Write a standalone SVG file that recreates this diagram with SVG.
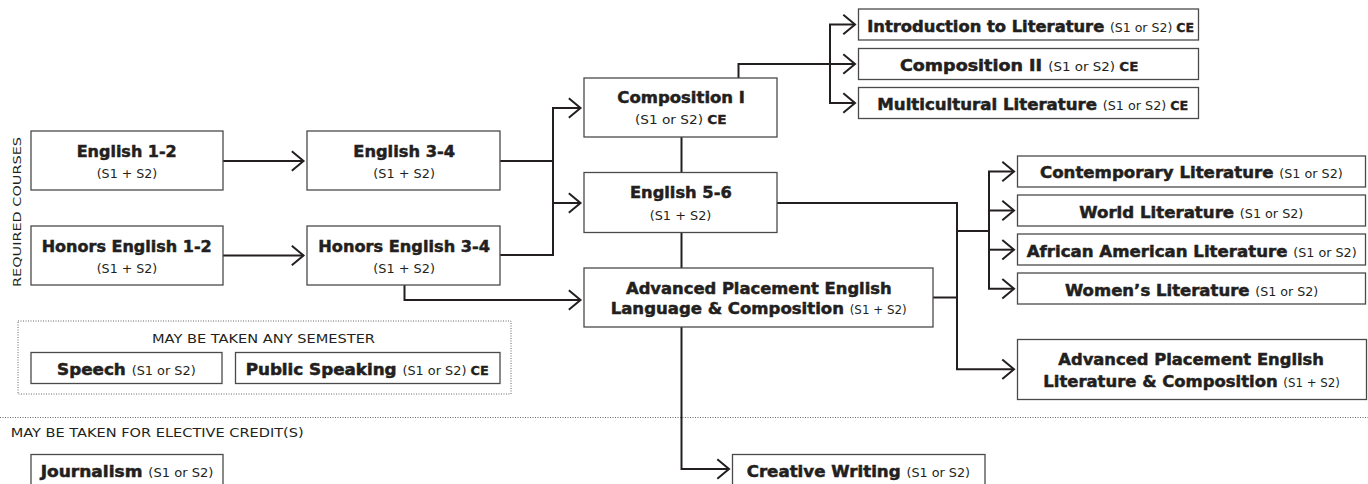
<svg xmlns="http://www.w3.org/2000/svg" width="1368" height="484" viewBox="0 0 1368 484">
<style>
.box{fill:#fff;stroke:#4a4a4a;stroke-width:1.3}
.t{font-family:"DejaVu Sans",sans-serif;font-weight:bold;font-size:16px;fill:#231f20;stroke:#231f20;stroke-width:0.5}
.t1{font-family:"DejaVu Sans",sans-serif;font-weight:bold;font-size:15px;fill:#231f20;stroke:#231f20;stroke-width:0.5}
.s{font-family:"DejaVu Sans",sans-serif;font-weight:normal;font-size:11.5px;fill:#231f20;stroke:none}
.ce{font-weight:bold;font-size:11.5px;stroke:#231f20;stroke-width:0.3}
.lbl{font-family:"DejaVu Sans",sans-serif;font-size:12px;fill:#231f20}
.conn path{fill:none;stroke:#231f20;stroke-width:2}
.dot{fill:none;stroke:#666;stroke-width:1;stroke-dasharray:1 1.5}
</style>
<defs>
<marker id="ah" markerUnits="userSpaceOnUse" markerWidth="18" markerHeight="26" viewBox="-3 -3 18 26" refX="11.7" refY="9.7" orient="auto">
<path d="M0,0 L11.7,9.7 L0,19.4" fill="none" stroke="#231f20" stroke-width="2"/>
</marker>
</defs>
<rect width="1368" height="484" fill="#fff"/>

<g id="separators">
<rect class="dot" x="18" y="321" width="493" height="73"/>
<line class="dot" x1="0" y1="417.5" x2="1368" y2="417.5"/>
<text class="lbl" x="152" y="343.3" textLength="223" lengthAdjust="spacingAndGlyphs">MAY BE TAKEN ANY SEMESTER</text>
<text class="lbl" x="10.7" y="437.3" textLength="293" lengthAdjust="spacingAndGlyphs">MAY BE TAKEN FOR ELECTIVE CREDIT(S)</text>
<text class="lbl" style="font-size:11px" transform="translate(20.5,212) rotate(-90)" x="0" y="0" text-anchor="middle" textLength="150" lengthAdjust="spacingAndGlyphs">REQUIRED COURSES</text>
</g>

<g id="connectors" class="conn">
<path d="M223,161 H303.5" marker-end="url(#ah)"/>
<path d="M223,255.5 H303.5" marker-end="url(#ah)"/>
<path d="M500,161 H553"/>
<path d="M500,255 H553 V108 H580.5" marker-end="url(#ah)"/>
<path d="M553,203 H580.5" marker-end="url(#ah)"/>
<path d="M681.5,137 V172.5"/>
<path d="M681.5,232.5 V268"/>
<path d="M404.5,285 V300 H580.5" marker-end="url(#ah)"/>
<path d="M681.5,327 V469 H729" marker-end="url(#ah)"/>
<path d="M738.5,78 V64 H855" marker-end="url(#ah)"/>
<path d="M830,64 V24.5 H855" marker-end="url(#ah)"/>
<path d="M830,64 V103 H855" marker-end="url(#ah)"/>
<path d="M777,203 H957 V369.3 H1014" marker-end="url(#ah)"/>
<path d="M933,297.5 H957"/>
<path d="M957,231 H989"/>
<path d="M989,231 V171.5 H1014" marker-end="url(#ah)"/>
<path d="M989,231 V288.8 H1014" marker-end="url(#ah)"/>
<path d="M989,210.5 H1014" marker-end="url(#ah)"/>
<path d="M989,249.7 H1014" marker-end="url(#ah)"/>
</g>

<g id="english12">
<rect class="box" x="31" y="131" width="192" height="59"/>
<text class="t" x="76.7" y="156.7" textLength="100" lengthAdjust="spacingAndGlyphs">English 1-2</text>
<text class="s" x="96.7" y="177.7" textLength="60.6" lengthAdjust="spacingAndGlyphs">(S1 + S2)</text>
</g>
<g id="honors12">
<rect class="box" x="31" y="226" width="192" height="59"/>
<text class="t" x="41.7" y="251.7" textLength="170" lengthAdjust="spacingAndGlyphs">Honors English 1-2</text>
<text class="s" x="96.7" y="272.7" textLength="60.6" lengthAdjust="spacingAndGlyphs">(S1 + S2)</text>
</g>
<g id="english34">
<rect class="box" x="307" y="131" width="193" height="59"/>
<text class="t" x="353.3" y="156.7" textLength="101.7" lengthAdjust="spacingAndGlyphs">English 3-4</text>
<text class="s" x="373.3" y="177.7" textLength="61.7" lengthAdjust="spacingAndGlyphs">(S1 + S2)</text>
</g>
<g id="honors34">
<rect class="box" x="307" y="226" width="193" height="59"/>
<text class="t" x="318.3" y="251.7" textLength="171.7" lengthAdjust="spacingAndGlyphs">Honors English 3-4</text>
<text class="s" x="373.3" y="272.7" textLength="61.7" lengthAdjust="spacingAndGlyphs">(S1 + S2)</text>
</g>
<g id="composition1">
<rect class="box" x="584" y="78" width="193" height="59"/>
<text class="t" x="617.3" y="103.3" textLength="127.7" lengthAdjust="spacingAndGlyphs">Composition I</text>
<text class="s" x="635" y="124.3" textLength="91.7" lengthAdjust="spacingAndGlyphs">(S1 or S2) <tspan class="ce">CE</tspan></text>
</g>
<g id="english56">
<rect class="box" x="584" y="172.5" width="193" height="60"/>
<text class="t" x="630" y="198.3" textLength="101.7" lengthAdjust="spacingAndGlyphs">English 5-6</text>
<text class="s" x="649.7" y="219.5" textLength="61.7" lengthAdjust="spacingAndGlyphs">(S1 + S2)</text>
</g>
<g id="aplang">
<rect class="box" x="584" y="268" width="349" height="59"/>
<text class="t" x="626" y="294" textLength="265.7" lengthAdjust="spacingAndGlyphs">Advanced Placement English</text>
<text class="t" x="610.7" y="314.3" textLength="296" lengthAdjust="spacingAndGlyphs">Language &amp; Composition <tspan class="s">(S1 + S2)</tspan></text>
</g>
<g id="introlit">
<rect class="box" x="858.5" y="9" width="340" height="31"/>
<text class="t1" x="867.3" y="31.7" textLength="326.7" lengthAdjust="spacingAndGlyphs">Introduction to Literature <tspan class="s">(S1 or S2) </tspan><tspan class="ce">CE</tspan></text>
</g>
<g id="composition2">
<rect class="box" x="858.5" y="48.5" width="340" height="31"/>
<text class="t1" x="900" y="71" textLength="238.3" lengthAdjust="spacingAndGlyphs">Composition II <tspan class="s">(S1 or S2) </tspan><tspan class="ce">CE</tspan></text>
</g>
<g id="multicultural">
<rect class="box" x="858.5" y="87.5" width="340" height="31"/>
<text class="t1" x="877.3" y="110" textLength="311" lengthAdjust="spacingAndGlyphs">Multicultural Literature <tspan class="s">(S1 or S2) </tspan><tspan class="ce">CE</tspan></text>
</g>
<g id="contemporary">
<rect class="box" x="1017.5" y="156" width="348" height="31"/>
<text class="t1" x="1040" y="178.3" textLength="302.7" lengthAdjust="spacingAndGlyphs">Contemporary Literature <tspan class="s">(S1 or S2)</tspan></text>
</g>
<g id="world">
<rect class="box" x="1017.5" y="195" width="348" height="31"/>
<text class="t1" x="1079.3" y="217.7" textLength="224" lengthAdjust="spacingAndGlyphs">World Literature <tspan class="s">(S1 or S2)</tspan></text>
</g>
<g id="african">
<rect class="box" x="1017.5" y="234" width="348" height="31"/>
<text class="t1" x="1026.7" y="256.7" textLength="330" lengthAdjust="spacingAndGlyphs">African American Literature <tspan class="s">(S1 or S2)</tspan></text>
</g>
<g id="womens">
<rect class="box" x="1017.5" y="273" width="348" height="31"/>
<text class="t1" x="1065" y="296" textLength="253.3" lengthAdjust="spacingAndGlyphs">Women’s Literature <tspan class="s">(S1 or S2)</tspan></text>
</g>
<g id="aplit">
<rect class="box" x="1017.5" y="339.5" width="349" height="60"/>
<text class="t" x="1058.3" y="365" textLength="265.7" lengthAdjust="spacingAndGlyphs">Advanced Placement English</text>
<text class="t" x="1043.3" y="386.7" textLength="296.7" lengthAdjust="spacingAndGlyphs">Literature &amp; Composition <tspan class="s">(S1 + S2)</tspan></text>
</g>
<g id="speech">
<rect class="box" x="31" y="352.5" width="191" height="31"/>
<text class="t1" x="57.1" y="375" textLength="138.6" lengthAdjust="spacingAndGlyphs">Speech <tspan class="s">(S1 or S2)</tspan></text>
</g>
<g id="publicspeaking">
<rect class="box" x="235.5" y="352.5" width="264.5" height="31"/>
<text class="t1" x="245.7" y="375" textLength="243" lengthAdjust="spacingAndGlyphs">Public Speaking <tspan class="s">(S1 or S2) </tspan><tspan class="ce">CE</tspan></text>
</g>
<g id="journalism">
<rect class="box" x="31" y="454.5" width="192" height="31"/>
<text class="t1" x="40.7" y="476.7" textLength="172.7" lengthAdjust="spacingAndGlyphs">Journalism <tspan class="s">(S1 or S2)</tspan></text>
</g>
<g id="creativewriting">
<rect class="box" x="732.5" y="454.5" width="252.5" height="31"/>
<text class="t1" x="746.7" y="477.3" textLength="223.3" lengthAdjust="spacingAndGlyphs">Creative Writing <tspan class="s">(S1 or S2)</tspan></text>
</g>
</svg>
